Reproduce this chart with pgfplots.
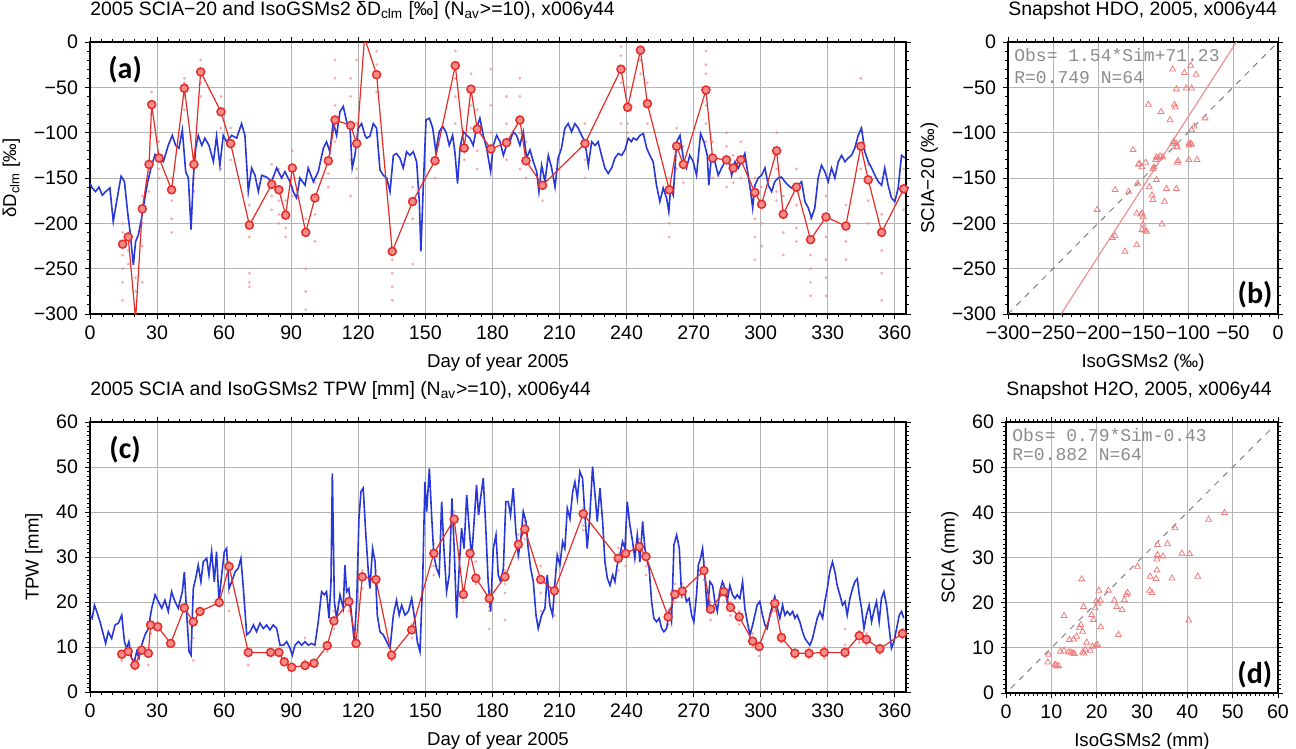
\documentclass[border=0pt]{standalone}
\usepackage{pgfplots}
\pgfplotsset{compat=1.18}
\usepackage{fontspec}
\setmainfont{Liberation Sans}
\newfontfamily\monofont{Liberation Mono}
\newfontfamily\panelfont{Carlito}

\definecolor{isoblue}{RGB}{40,55,215}
\definecolor{sciared}{RGB}{228,45,40}
\definecolor{circfill}{RGB}{245,140,140}
\definecolor{scatpink}{RGB}{238,125,125}
\definecolor{dotpink}{RGB}{238,135,135}
\definecolor{gridgray}{RGB}{180,180,180}
\definecolor{anngray}{RGB}{140,140,140}

\tikzset{
  panel/.style={font=\panelfont\bfseries\fontsize{15}{15}\selectfont},
  ann/.style={anchor=west,inner sep=0pt,text=anngray,
    font=\monofont\fontsize{9}{10}\selectfont},
}
\pgfplotsset{
  gmt/.style={
    scale only axis,
    anchor=south west,
    clip mode=individual,
    axis line style={line width=0.9pt},
    tick align=outside,
    major tick length=2.5pt,
    minor tick length=1.3pt,
    every tick/.style={black,line width=0.45pt},
    grid=major,
    major grid style={gridgray,line width=0.5pt},
    /pgf/number format/assume math mode=true,
    tick label style={font=\fontsize{9.8}{11}\selectfont},
    label style={font=\fontsize{9.3}{11}\selectfont},
    title style={font=\fontsize{9.7}{11}\selectfont,anchor=base west,
      at={(0,1)},inner xsep=0pt,yshift=7.5pt},
  },
  daily/.style={gmt,xmin=0,xmax=365,xtick={0,30,...,360},
    minor x tick num=5,xlabel={Day of year 2005}},
  isoline/.style={isoblue,line width=0.8pt,no marks},
  scialine/.style={sciared,line width=0.6pt,mark=*,mark size=2pt,
    mark options={draw=sciared,fill=circfill,line width=0.75pt}},
  scat/.style={only marks,mark=triangle,mark size=1.7pt,
    mark options={draw=scatpink,line width=0.4pt}},
  retr/.style={dotpink,only marks,mark=*,mark size=0.55pt,
    mark options={draw=dotpink,fill=dotpink,opacity=0.5}},
}

\begin{document}
\begin{tikzpicture}
\path[use as bounding box] (0,0) rectangle (648pt,-374.5pt);

% (a) HDO time series
\begin{axis}[daily,
  at={(45pt,-157pt)}, width=408pt, height=136pt,
  ymin=-300, ymax=0, ytick={-300,-250,...,0},
  yticklabels={−300,−250,−200,−150,−100,−50,0},
  minor y tick num=4,
  ylabel={δD\textsubscript{clm} [‰]},
  title={2005 SCIA−20 and IsoGSMs2 δD\textsubscript{clm} [‰] (N\textsubscript{av}>=10), x006y44},
]
% single retrievals
\addplot[retr] coordinates {
(14.6,-200) (14.6,-210) (14.6,-235) (14.6,-250) (14.6,-265) (14.6,-285)
(17.1,-195) (17.1,-230) (17.1,-245) (20.4,-260) (20.4,-275)
(23.4,-170) (23.4,-200) (23.4,-225) (23.4,-265)
(27.6,-55) (27.6,-80) (27.6,-100) (26.4,-150) (26.4,-165)
(30.9,-110) (30.9,-140) (30.9,-150) (36.5,-150) (36.5,-175) (36.5,-195) (36.5,-210)
(42.2,-40) (42.2,-45) (42.2,-60) (42.2,-75) (46.5,-125) (46.5,-150) (46.5,-165)
(49.5,-20) (49.5,-45) (49.5,-60) (58.6,-60) (58.6,-95) (58.6,-140) (62.9,-95) (62.9,-130)
(71.3,-180) (71.3,-215) (71.3,-255) (71.3,-265) (71.3,-270)
(81.3,-135) (81.3,-170) (81.3,-185) (84.5,-140) (84.5,-175) (84.5,-190) (84.5,-200)
(87.5,-175) (87.5,-205) (87.5,-215) (90.5,-120) (90.5,-160) (90.5,-170)
(96.5,-195) (96.5,-250) (96.5,-275) (96.5,-295) (100.6,-155) (100.6,-190) (100.6,-220)
(106.6,-115) (106.6,-145) (106.6,-160) (109.6,-20) (109.6,-40) (109.6,-70) (109.6,-110)
(116.6,-40) (116.6,-60) (116.6,-130) (116.6,-170) (119.3,-20) (119.3,-90) (119.3,-140) (119.3,-150)
(128.2,-10) (128.2,-25) (128.2,-55) (135.2,-240) (135.2,-255) (135.2,-270) (135.2,-285)
(144.3,-160) (144.3,-195) (144.3,-245) (154.3,-110) (154.3,-150)
(163.4,-10) (163.4,-40) (163.4,-60) (163.4,-90) (167.4,-100) (167.4,-130)
(170.4,-35) (170.4,-70) (170.4,-95) (173.2,-75) (173.2,-120) (173.2,-140)
(179.3,-30) (179.3,-70) (179.3,-100) (179.3,-140) (186.3,-60) (186.3,-90) (186.3,-130)
(192.3,-40) (192.3,-60) (192.3,-100) (192.3,-140) (195,-110) (195,-150)
(202.4,-140) (202.4,-175) (221.4,-90) (221.4,-130) (221.4,-150)
(237.5,-5) (237.5,-15) (237.5,-45) (237.5,-90) (240.5,-50) (240.5,-90) (240.5,-100)
(246.2,-5) (246.2,-20) (246.2,-35) (249.3,-45) (249.3,-90)
(259.1,-150) (259.1,-185) (259.1,-200) (259.1,-215) (262.4,-95) (262.4,-140)
(265.4,-115) (265.4,-155) (275.5,-10) (275.5,-25) (275.5,-35) (275.5,-70) (275.5,-90) (275.5,-110)
(278.5,-110) (278.5,-150) (284.7,-100) (284.7,-115) (284.7,-160) (287.7,-125) (287.7,-155)
(291.1,-110) (291.1,-150) (297.4,-150) (297.4,-195) (297.4,-215) (297.4,-240)
(300.4,-160) (300.4,-200) (300.4,-225) (307.1,-100) (307.1,-140) (307.1,-165) (307.1,-175)
(310.1,-170) (310.1,-210) (310.1,-235) (316,-140) (316,-180) (316,-205) (316,-220)
(322.3,-195) (322.3,-235) (322.3,-250) (322.3,-265) (322.3,-280)
(329.2,-170) (329.2,-215) (329.2,-240) (329.2,-260) (329.2,-280)
(338.1,-180) (338.1,-220) (338.1,-240) (344.8,-40) (344.8,-95) (344.8,-140)
(348.1,-135) (348.1,-175) (348.1,-200) (354.1,-190) (354.1,-230) (354.1,-255) (354.1,-285)
(364,-140) (364,-185)
};
\addplot[isoline] coordinates {
(0,-156) (1,-161) (2.5,-165) (4,-160) (5.5,-169) (7,-165) (8.9,-161) (10.4,-198)
(11.9,-176) (13.9,-148) (15.4,-154) (16.8,-187) (17.9,-209) (19.4,-246) (20.4,-220)
(21.6,-213) (22.8,-198) (24.3,-176) (25.8,-154) (27.6,-136) (29.1,-124) (30.6,-128)
(32.8,-132) (35,-114) (36.8,-103) (38.3,-114) (39.8,-117) (41.3,-97) (42.8,-143)
(44,-150) (45.2,-207) (46.2,-150) (47.3,-117) (48.4,-103) (50,-114) (51.4,-106)
(53.2,-114) (55.2,-132) (56.6,-104) (58.1,-136) (59.6,-103) (61.1,-110) (63.4,-103)
(65.6,-106) (67.8,-90) (69.3,-103) (70.8,-165) (72.3,-139) (73.8,-147) (75.3,-165)
(76.8,-147) (79,-149) (81.2,-154) (83.5,-139) (85.7,-150) (87.2,-143) (89.4,-154)
(90.9,-165) (92.4,-172) (93.9,-150) (96.2,-158) (97.6,-139) (99.9,-154) (102.1,-143)
(104.4,-117) (105.8,-110) (107.3,-121) (108.8,-88) (110.3,-103) (111.8,-77) (113.3,-71)
(114.8,-88) (116.3,-95) (117.3,-139) (118.5,-125) (120,-95) (121.5,-90) (123,-103)
(123.7,-106) (125.2,-104) (126.7,-90) (128.2,-95) (129.7,-141) (131.2,-147) (132.7,-150)
(134.2,-165) (135.7,-125) (137.1,-123) (138.6,-128) (140.1,-139) (141.6,-121) (143.1,-125)
(144.6,-121) (146.1,-132) (147.3,-176) (148,-231) (149.1,-158) (150.3,-86) (151.8,-84)
(153.3,-95) (154.7,-121) (156.2,-99) (157.7,-93) (159.2,-99) (160.7,-114) (162.2,-103)
(163.2,-121) (164.4,-156) (165.5,-117) (167,-99) (168.5,-103) (169.9,-106) (171.4,-114)
(172.9,-95) (174.4,-84) (175.9,-103) (177.4,-117) (179.2,-143) (180.4,-114) (181.9,-103)
(183.4,-110) (184.9,-125) (186.3,-114) (187.8,-110) (189.3,-99) (190.8,-103) (192.3,-114)
(193.8,-99) (195.3,-128) (196.8,-119) (198.3,-132) (199.8,-143) (200.8,-165) (202,-136)
(203.5,-154) (205,-125) (206.5,-139) (208,-160) (209.4,-128) (210.9,-117) (212.4,-95)
(213.9,-90) (215.4,-99) (216.9,-90) (218.4,-95) (219.9,-103) (221.4,-110) (222.9,-136)
(224.4,-110) (225.9,-114) (227.3,-110) (228.8,-125) (230.3,-139) (231.8,-145) (233.3,-139)
(234.8,-128) (236.3,-123) (237.8,-125) (239.3,-119) (240.8,-106) (242.2,-110) (243,-106)
(244.5,-108) (246,-103) (247.5,-101) (249,-117) (250.4,-125) (251.9,-132) (253.4,-158)
(254.9,-176) (256.4,-161) (257.9,-172) (258.9,-187) (259.7,-161) (260.9,-169) (262.4,-110)
(263.9,-103) (265.4,-128) (266.8,-139) (268.3,-125) (269.8,-132) (271.3,-147) (273.1,-101)
(274.6,-110) (276.1,-125) (276.8,-158) (278,-125) (279.5,-132) (281,-147) (282.5,-139)
(284,-132) (285.5,-128) (287,-147) (288.5,-132) (290,-139) (291.4,-132) (292.9,-123)
(294.4,-147) (295.5,-165) (296.4,-183) (297.4,-158) (298.9,-150) (300.4,-147) (301.9,-139)
(303.4,-158) (304.9,-165) (306.3,-154) (307.8,-150) (309.3,-149) (310.8,-154) (312.3,-158)
(313.8,-161) (315.3,-158) (316.8,-158) (318.3,-154) (319.8,-176) (321.3,-183) (322.7,-194)
(324.2,-183) (325.7,-150) (327.2,-136) (328.7,-143) (330.2,-154) (331.7,-139) (333.2,-150)
(334.7,-132) (336.2,-125) (337.7,-132) (339.1,-128) (340.6,-125) (342.1,-117) (343.6,-103)
(345.1,-95) (346.6,-121) (348.1,-132) (349.6,-139) (351.1,-147) (352.6,-154) (354.1,-158)
(355.5,-139) (357,-158) (358.5,-172) (360,-176) (361.5,-161) (363,-125) (364.5,-128)
};
\addplot[scialine] coordinates {
(14.6,-223) (17.1,-215) (20.4,-306) (23.4,-184) (26.4,-135) (27.6,-69) (30.9,-128)
(36.5,-163) (42.2,-51) (46.5,-135) (49.5,-33) (58.6,-77) (62.9,-112) (71.3,-202)
(81.3,-157) (84.5,-163) (87.5,-191) (90.5,-139) (96.5,-210) (100.6,-172) (106.6,-131)
(109.6,-86) (116.6,-92) (119.3,-112) (122.8,5) (128.2,-36) (135.2,-231) (144.3,-176)
(154.3,-131) (163.4,-26) (167.4,-117) (170.4,-52) (173.2,-96) (179.3,-118) (186.3,-111)
(192.3,-86) (195,-131) (202.4,-158) (221.4,-112) (237.5,-30) (240.5,-72) (246.2,-9)
(249.3,-68) (259.1,-163) (262.4,-115) (265.4,-135) (275.5,-53) (278.5,-128) (284.7,-130)
(287.7,-139) (291.1,-130) (297.4,-166) (300.4,-179) (307.1,-120) (310.1,-190) (316,-160)
(322.3,-218) (329.2,-193) (338.1,-203) (344.8,-115) (348.1,-152) (354.1,-210) (364,-162)
};
\node[panel] at (rel axis cs:0.043,0.897) {(a)};
\end{axis}

% (b) HDO scatter
\begin{axis}[gmt,
  at={(504pt,-157pt)}, width=135pt, height=136pt,
  xmin=-300, xmax=0, ymin=-300, ymax=0,
  xtick={-300,-250,...,0}, ytick={-300,-250,...,0},
  xticklabels={−300,−250,−200,−150,−100,−50,0},
  yticklabels={−300,−250,−200,−150,−100,−50,0},
  minor x tick num=4, minor y tick num=4,
  xlabel={IsoGSMs2 (‰)}, ylabel={SCIA−20 (‰)},
  title={Snapshot HDO, 2005, x006y44},
]
\addplot[gray, dashed, line width=0.5pt] coordinates {(-300,-300) (0,0)};
\addplot[scatpink!85, line width=0.6pt] coordinates {(-241.0,-300) (-46.25,0)};
\addplot[scat] coordinates {
(-117,-30) (-104,-34) (-97,-26) (-91,-36) (-113,-52) (-102,-51) (-96,-51) (-144,-69)
(-115,-69) (-114,-72) (-130,-77) (-120,-86) (-81,-84) (-93,-93) (-96,-97) (-116,-110)
(-113,-112) (-112,-116) (-99,-112) (-96,-113) (-135,-127) (-131,-126) (-128,-127)
(-111,-131) (-99,-130) (-90,-130) (-161,-119) (-154,-134) (-151,-138) (-147,-133)
(-139,-140) (-135,-152) (-156,-156) (-143,-160) (-124,-162) (-113,-162) (-181,-163)
(-166,-165) (-140,-169) (-139,-174) (-126,-176) (-201,-185) (-157,-189) (-151,-189)
(-150,-193) (-150,-201) (-129,-201) (-151,-207) (-146,-209) (-184,-216) (-181,-214)
(-157,-224) (-170,-231) (-138,-138) (-136,-130) (-113,-115) (-99,-114) (-152,-190)
(-133,-128) (-116,-112) (-148,-208) (-155,-135) (-112,-133) (-97,-112)
};
\node[ann] at (rel axis cs:0.022,0.952) {Obs= 1.54*Sim+71.23};
\node[ann] at (rel axis cs:0.022,0.871) {R=0.749 N=64};
\node[panel] at (rel axis cs:0.915,0.07) {(b)};
\end{axis}

% (c) TPW time series
\begin{axis}[daily,
  at={(45pt,-346pt)}, width=408pt, height=135pt,
  ymin=0, ymax=60, ytick={0,10,...,60}, minor y tick num=9,
  ylabel={TPW [mm]},
  title={2005 SCIA and IsoGSMs2 TPW [mm] (N\textsubscript{av}>=10), x006y44},
]
\addplot[retr] coordinates {
(14.2,8) (14.2,7) (20.1,5) (20.1,7) (27.1,13) (26.1,6) (46.2,12) (46.2,7)
(62.2,22) (62.2,29) (62.2,18) (70.8,8) (70.8,6) (80.8,9.5) (90.2,5) (96.2,12) (96.2,7)
(106.1,11) (106.1,9) (109.1,14) (109.1,18) (115.8,22) (115.8,18) (121.8,23) (121.8,27)
(127.9,27) (127.9,22) (134.9,7) (143.9,15) (143.9,12) (153.8,33) (153.8,28) (153.8,26)
(162.9,36) (162.9,40) (162.9,30) (167,20) (167,23) (172.6,29) (172.6,24)
(178.6,14) (178.6,18) (178.6,19) (185.6,22) (185.6,24) (185.6,27) (185.6,16)
(191.6,30) (191.6,35) (194.5,34) (194.5,38) (201.6,22) (201.6,28) (201.6,18)
(207.7,20) (207.7,17) (220.6,36) (220.6,41) (220.6,37) (236.3,27) (236.3,32)
(239.6,28) (239.6,33) (245.7,29) (245.7,34) (248.7,28) (248.7,26) (258.6,15) (258.6,18)
(261.6,20) (261.6,24) (264.9,21) (264.9,24) (274.6,25) (274.6,28) (274.6,29)
(277.6,16) (277.6,20) (283.5,20) (283.5,24) (286.5,17) (286.5,20) (290.4,15) (290.4,18)
(296.4,10) (296.4,13) (299.3,8) (299.3,11) (306.3,18) (306.3,21) (309.3,11) (309.3,13)
(315.3,7.5) (315.3,9.5) (321.6,7.5) (321.6,9.8) (328.4,7.5) (328.4,10)
(337.7,7.8) (337.7,10.5) (337.7,14) (344.1,11) (344.1,13.5) (347.3,10.5) (347.3,13)
(353.3,8.5) (353.3,10.5) (363.4,12) (363.4,14)
};
\addplot[isoline] coordinates {
(0,17.1) (1,16.4) (2,19.3) (3,17.9) (4.5,15.6) (6,12.7) (7,10.8) (8.2,13.4) (9.7,11.9)
(11.2,14.9) (12.7,15.3) (14.2,17.1) (15.4,11.2) (16.4,9.7) (17.4,11.2) (18.6,7.5)
(19.8,6.7) (20.9,9.0) (21.9,7.5) (23.1,10.4) (24.6,12.7) (26.1,14.1) (27.6,18.6)
(29.1,21.6) (30.6,20.1) (32.1,18.6) (33.5,20.4) (35,17.9) (36.5,22.3) (38,20.1)
(39.5,18.6) (41.3,22.3) (42.2,26.7) (43.2,17.9) (44.3,9.0) (45.2,8.2) (46.2,23.0)
(47.3,25.3) (48.4,28.2) (49.6,24.5) (50.7,29.0) (52.2,29.7) (53.2,26.0) (54.4,31.2)
(55.6,24.5) (56.6,31.2) (57.7,20.1) (58.9,26.0) (60.1,31.2) (61.1,31.9) (62.2,23.0)
(63.4,24.5) (64.9,26.7) (66.3,27.5) (67.5,29.7) (68.6,23.0) (70.1,12.7) (71.6,13.4)
(73.1,14.9) (74.5,13.4) (76,15.3) (77.5,14.1) (79,14.9) (80.5,13.8) (82,14.9) (83.5,14.1)
(85,10.4) (86.5,10.4) (88,11.2) (89.5,9.7) (90.5,8.2) (91.7,10.4) (93.2,11.2) (94.7,10.4)
(96.2,11.2) (97.6,10.4) (99.1,10.8) (100.6,10.4) (102.1,15.6) (103.6,22.3) (104.8,21.6)
(105.8,22.3) (106.9,16.4) (107.8,24.5) (108.4,48.6) (109.3,20.1) (110.3,16.4)
(111.8,21.6) (113.3,18.6) (114,28.2) (114.8,22.3) (115.8,23.0) (117,17.1) (118.2,11.2)
(119.3,20.1) (120.3,38.6) (121.2,44.5) (122.2,45.3) (123.3,35.6) (124.5,26.7)
(125.2,23.0) (126.4,31.9) (127.5,29.0) (128.5,17.1) (129.7,13.4) (131.2,12.7)
(132.7,11.2) (134.2,9.7) (135.7,17.1) (137.1,20.4) (138.3,17.1) (139.4,19.3) (140.9,17.1)
(142.4,17.9) (143.9,20.8) (145.4,15.6) (146.4,11.2) (147.6,9.0) (148.8,24.5) (149.8,46.7)
(150.6,40.1) (151.8,49.7) (152.8,39.3) (153.8,30.4) (155,27.5) (156.2,26.0) (157.3,42.3)
(158.3,31.9) (159.5,22.3) (160.7,26.0) (161.9,43.0) (162.9,31.9) (164,16.4) (165.2,28.2)
(166.2,36.4) (167.3,31.9) (168.5,43.8) (169.6,36.4) (170.7,29.7) (171.7,37.1) (172.9,46.0)
(173.8,39.3) (174.7,43.0) (175.9,47.5) (176.9,37.9) (178.1,24.5) (179.2,17.9) (180.4,31.9)
(181.6,34.9) (182.6,26.0) (183.7,24.5) (184.9,27.5) (186,42.3) (187.1,42.3) (188.1,39.3)
(189.3,45.3) (190.5,35.6) (191.6,30.4) (192.6,33.4) (193.8,40.1) (195,37.9) (196,31.9)
(197.1,27.5) (198.3,24.5) (199.5,17.1) (200.5,14.1) (202,17.1) (203.5,18.6) (204.5,26.0)
(205.7,19.3) (206.9,17.1) (208,24.5) (209,30.4) (210.2,28.2) (211.4,33.4) (212.4,31.9)
(213.5,40.8) (214.7,38.5) (215.9,44.5) (216.9,46.7) (218,43.0) (219.1,49.0) (220.3,47.5)
(221.4,39.3) (222.4,31.9) (223.6,39.3) (224.8,50.1) (225.9,43.8) (226.9,37.9) (228.1,45.3)
(229.3,37.9) (230.3,29.0) (231.4,25.3) (232.6,23.7) (233.8,26.0) (234.8,24.5) (235.8,28.2)
(237,30.4) (238.2,33.4) (239.3,31.9) (240.3,42.3) (241.5,37.1) (242.7,33.4) (243.7,29.7)
(244.8,34.9) (246,29.0) (247.2,37.9) (248.2,31.9) (249.3,29.0) (250.1,27.5) (251.2,20.1)
(252.2,16.4) (253.4,15.6) (254.6,16.4) (255.7,14.1) (256.7,13.4) (257.9,14.1) (259.1,17.9)
(260.1,15.6) (261.2,32.7) (262.4,34.9) (263.6,31.9) (264.6,21.6) (265.6,23.0) (266.8,20.1)
(268,20.8) (269.1,17.1) (270.1,15.6) (271.3,21.6) (272.1,28.2) (273.1,29.7) (274,31.9)
(275,26.0) (276.1,17.9) (277.3,24.5) (278.5,23.7) (279.5,20.1) (280.6,17.9) (281.7,22.3)
(282.9,24.5) (284,23.0) (285,20.1) (286.2,23.7) (287.4,21.6) (288.5,20.8) (289.5,21.6)
(290.7,20.8) (291.9,24.5) (292.9,18.6) (294,15.6) (295.2,12.7) (296.4,14.9) (297.4,17.1)
(298.4,19.3) (299.6,20.1) (300.8,17.1) (301.9,14.9) (302.9,14.1) (304.1,17.1) (305.3,19.3)
(306.3,21.2) (307.4,18.6) (308.6,16.4) (309.8,19.3) (310.8,17.1) (311.9,17.9) (313.1,17.1)
(314.3,17.9) (315.3,16.4) (316.3,17.1) (317.5,15.6) (318.7,13.4) (319.8,11.9) (320.8,11.2)
(322,10.4) (323.2,11.9) (324.2,14.1) (325.3,16.4) (326.5,17.9) (327.7,16.4) (328.7,20.1)
(329.8,23.0) (330.9,26.7) (332.1,28.9) (333.2,26.7) (334.2,23.7) (335.4,21.6) (336.6,19.3)
(337.7,20.1) (338.7,17.1) (339.9,20.8) (341.1,23.0) (342.1,24.5) (343.2,25.2) (344.1,21.6)
(345.1,18.6) (346.2,14.1) (347.3,17.1) (348.5,19.3) (349.6,15.6) (350.6,17.9) (351.8,20.1)
(353,15.6) (354,20.8) (355.1,22.3) (356.3,19.3) (357.5,14.1) (358.5,9.7) (359.6,11.2)
(360.8,14.1) (362,17.1) (363,17.9) (364,16.4)
};
\addplot[scialine] coordinates {
(14.2,8.4) (17.1,9.0) (20.1,6.0) (23.1,9.3) (26.1,8.6) (27.1,14.9) (30.3,14.5) (36.1,10.8)
(42.2,18.7) (46.2,15.6) (49.2,17.9) (57.8,19.9) (62.2,27.9) (70.8,8.8) (80.8,8.8)
(84.5,8.8) (86.9,6.7) (90.2,5.5) (96.2,5.9) (100.2,6.4) (106.1,10.3) (109.1,15.8)
(115.8,20.1) (119,10.8) (121.8,25.6) (127.9,25.0) (134.9,8.2) (143.9,13.8) (153.8,30.8)
(162.9,38.4) (167,21.7) (170,30.8) (172.6,25.3) (178.6,20.8) (185.6,25.6) (191.6,32.8)
(194.5,36.2) (201.6,25.0) (207.7,22.5) (220.6,39.6) (236.3,29.7) (239.6,30.8) (245.7,32.3)
(248.7,30.1) (258.6,16.7) (261.6,21.7) (264.9,22.4) (274.6,27.0) (277.6,18.4) (283.5,22.3)
(286.5,18.8) (290.4,16.7) (296.4,11.3) (299.3,10.1) (306.3,19.7) (309.3,12.1) (315.3,8.6)
(321.6,8.6) (328.4,8.8) (337.7,8.8) (344.1,12.5) (347.3,11.7) (353.3,9.6) (363.4,13.0)
};
\node[panel] at (rel axis cs:0.043,0.896) {(c)};
\end{axis}

% (d) H2O scatter
\begin{axis}[gmt,
  at={(503pt,-346.5pt)}, width=136pt, height=135.5pt,
  xmin=0, xmax=60, ymin=0, ymax=60,
  xtick={0,10,...,60}, ytick={0,10,...,60},
  minor x tick num=9, minor y tick num=9,
  xlabel={IsoGSMs2 (mm)}, ylabel={SCIA (mm)},
  title={Snapshot H2O, 2005, x006y44},
]
\addplot[gray, dashed, line width=0.5pt] coordinates {(1,1) (59,59)};
\addplot[scat] coordinates {
(9.4,8.5) (9.2,6.8) (10.8,6.3) (11.2,5.9) (11.6,6.0) (12.0,9.2) (12.8,9.4) (13.8,9.0)
(14.3,9.0) (14.7,8.8) (14.0,11.8) (14.9,11.9) (12.8,17.1) (15.6,12.5) (16.2,14.4)
(16.5,15.1) (16.9,13.6) (16.7,25.2) (17.1,19.1) (16.9,9.0) (17.5,9.6) (17.8,11.2)
(18.6,9.4) (19.1,10.3) (19.8,10.5) (20.2,10.7) (18.9,17.3) (19.3,16.2) (19.7,18.8)
(19.9,20.3) (20.5,22.7) (20.8,20.5) (20.9,14.6) (22.6,22.7) (23.9,20.5) (24.4,19.1)
(24.8,12.9) (25.6,18.4) (26.1,20.6) (26.5,21.7) (26.8,22.2) (29.0,28.0) (31.7,22.7)
(32.2,22.2) (31.8,25.8) (33.1,25.3) (33.3,29.6) (33.4,30.6) (33.4,32.8) (33.3,27.2)
(34.6,30.3) (35.6,33.0) (37.3,36.5) (36.6,25.4) (38.8,30.9) (40.5,30.8) (40.3,16.1)
(42.3,25.8) (44.7,38.4) (48.2,39.9) (11.0,6.2) (15.1,8.7) (17.2,8.8) (20.3,19.8)
};
\node[ann] at (rel axis cs:0.022,0.952) {Obs= 0.79*Sim-0.43};
\node[ann] at (rel axis cs:0.022,0.878) {R=0.882 N=64};
\node[panel] at (rel axis cs:0.915,0.066) {(d)};
\end{axis}
\end{tikzpicture}
\end{document}
